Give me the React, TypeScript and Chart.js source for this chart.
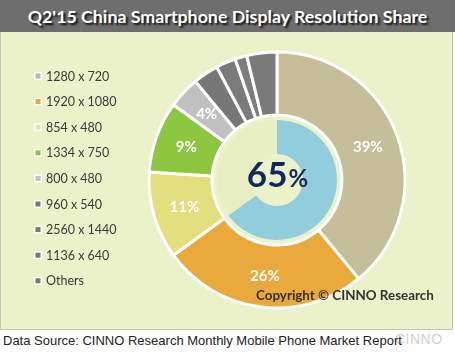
import React, { useEffect, useRef } from "react";
import { Chart, registerables } from "chart.js";

Chart.register(...registerables);

const categories = [
  "1280 x 720",
  "1920 x 1080",
  "854 x 480",
  "1334 x 750",
  "800 x 480",
  "960 x 540",
  "2560 x 1440",
  "1136 x 640",
  "Others",
];
const shares = [39, 26, 11, 9, 4, 3.2, 2.5, 1.5, 3.8];
const shareLabels = ["39%", "26%", "11%", "9%", "4%", "", "", "", ""];
const sliceColors = [
  "#c5be98",
  "#eaa93c",
  "#e4df7e",
  "#8dc641",
  "#c0c0c0",
  "#777777",
  "#7b7b7b",
  "#7d7d7d",
  "#7a7a7a",
];
const legendColors = [
  "#b8b8b8",
  "#e8a83c",
  "#dfe4bf",
  "#8dc641",
  "#c4c4c8",
  "#77777f",
  "#77777f",
  "#77777f",
  "#77777f",
];
const innerValues = [65, 35];
const centerNumber = "65";
const centerUnit = "%";

const PANEL_BG = "#ebf1c9";

export default function App() {
  const ref = useRef<HTMLCanvasElement | null>(null);

  useEffect(() => {
    document.body.style.margin = "0";
    const canvas = ref.current;
    if (!canvas) return;

    const overlay = {
      id: "overlay",
      afterDatasetsDraw(chart: any) {
        const ctx = chart.ctx;
        ctx.save();
        const meta = chart.getDatasetMeta(0);
        ctx.fillStyle = "#ffffff";
        ctx.font = "bold 15px Lato";
        ctx.textAlign = "center";
        ctx.textBaseline = "middle";
        meta.data.forEach((arc: any, i: number) => {
          const t = shareLabels[i];
          if (!t) return;
          const p = arc.tooltipPosition();
          ctx.fillText(t, p.x, p.y);
        });
        const outer = meta.data[0];
        const cx = outer.x;
        const cy = outer.y;
        ctx.fillStyle = "#102a5e";
        ctx.textBaseline = "alphabetic";
        ctx.textAlign = "left";
        ctx.font = "bold 35px Lato";
        const w1 = ctx.measureText(centerNumber).width;
        ctx.font = "bold 24px Lato";
        const w2 = ctx.measureText(centerUnit).width;
        const x0 = cx - (w1 + w2) / 2;
        ctx.font = "bold 35px Lato";
        ctx.fillText(centerNumber, x0, cy + 7);
        ctx.font = "bold 24px Lato";
        ctx.fillText(centerUnit, x0 + w1 + 1, cy + 7);
        ctx.restore();
      },
      afterDraw(chart: any) {
        const ctx = chart.ctx;
        ctx.save();
        ctx.font = "12.5px Lato";
        ctx.textBaseline = "middle";
        ctx.textAlign = "left";
        categories.forEach((c, i) => {
          const y = 44 + i * 25.6;
          ctx.fillStyle = "#ffffff";
          ctx.fillRect(34, y - 4, 8, 8);
          ctx.fillStyle = legendColors[i];
          ctx.fillRect(35.5, y - 2.5, 5, 5);
          ctx.fillStyle = "#3a3a3a";
          ctx.fillText(c, 46, y + 0.5);
        });
        ctx.restore();
      },
    };

    const chart = new Chart(canvas, {
      type: "doughnut",
      data: {
        labels: categories,
        datasets: [
          {
            data: shares,
            backgroundColor: sliceColors,
            borderColor: "#ffffff",
            borderWidth: 3,
            weight: 63,
          } as any,
          {
            data: [1],
            backgroundColor: "rgba(0,0,0,0)",
            borderWidth: 0,
            weight: 5,
          } as any,
          {
            data: innerValues,
            backgroundColor: ["#92cddd", "#e7efc2"],
            borderWidth: 0,
            weight: 34,
          } as any,
        ],
      },
      options: {
        responsive: false,
        animation: false,
        radius: 128,
        cutout: "20.3%",
        layout: { padding: { left: 149, right: 47, top: 20, bottom: 22 } },
        plugins: {
          legend: { display: false },
          tooltip: { enabled: false },
        },
      } as any,
      plugins: [overlay],
    });
    return () => chart.destroy();
  }, []);

  return (
    <div
      style={{
        position: "relative",
        width: 455,
        height: 364,
        background: "#ffffff",
        overflow: "hidden",
      }}
    >
      <div
        style={{
          position: "absolute",
          left: 0,
          top: 0,
          width: 455,
          height: 32,
          background: "#6e6e6e",
          color: "#ffffff",
          fontFamily: "Lato",
          fontWeight: 700,
          fontSize: 17.8,
          lineHeight: "32px",
          textAlign: "center",
          textShadow: "2px 2px 2px #111",
        }}
      >
        Q2'15 China Smartphone Display Resolution Share
      </div>
      <div
        style={{
          position: "absolute",
          left: 0,
          top: 32,
          width: 451,
          height: 297,
          background: PANEL_BG,
          border: "1px solid #c4c4c4",
          borderTop: "none",
        }}
      />
      <canvas
        ref={ref}
        width={452}
        height={298}
        style={{ position: "absolute", left: 0, top: 32, width: 452, height: 298 }}
      />
      <div
        style={{
          position: "absolute",
          left: 256,
          top: 287,
          fontFamily: "Lato",
          fontWeight: 700,
          fontSize: 13.4,
          color: "#333333",
          whiteSpace: "nowrap",
        }}
      >
        Copyright © CINNO Research
      </div>
      <div
        style={{
          position: "absolute",
          left: 395,
          top: 331,
          fontFamily: "Liberation Sans",
          fontSize: 14,
          color: "#cfcfcf",
          letterSpacing: 0.5,
        }}
      >
        CINNO
      </div>
      <div
        style={{
          position: "absolute",
          left: 3,
          top: 333,
          fontFamily: "Liberation Sans",
          fontSize: 13,
          color: "#222222",
          whiteSpace: "nowrap",
        }}
      >
        Data Source: CINNO Research Monthly Mobile Phone Market Report
      </div>
    </div>
  );
}
